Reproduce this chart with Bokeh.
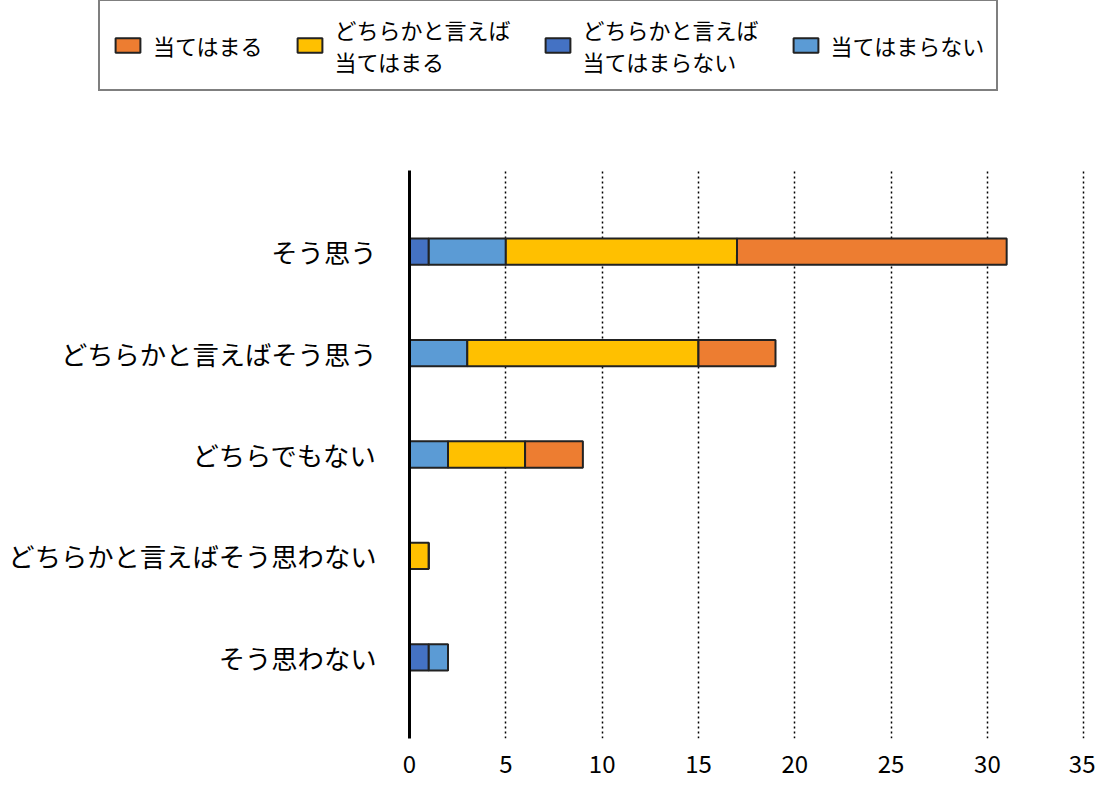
from bokeh.plotting import figure
from bokeh.embed import file_html
from bokeh.resources import INLINE
from bokeh.models import FactorRange, Range1d, Legend, LegendItem

categories = [
    "そう思う",
    "どちらかと言えばそう思う",
    "どちらでもない",
    "どちらかと言えばそう思わない",
    "そう思わない",
]
series_names = ["当てはまる", "どちらかと言えば\n当てはまる", "どちらかと言えば\n当てはまらない", "当てはまらない"]
atehamaru = [14, 4, 3, 0, 0]
dochiraka_atehamaru = [12, 12, 4, 1, 0]
dochiraka_atehamaranai = [1, 0, 0, 0, 1]
atehamaranai = [4, 3, 2, 0, 1]
x_ticks = [0, 5, 10, 15, 20, 25, 30, 35]

FONT = "Noto Sans CJK JP"
# Lato first only for tighter line metrics, kana/kanji fall back to Noto CJK
LEGEND_FONT = "Lato, 'Noto Sans CJK JP'"
colors = {
    "dochiraka_atehamaranai": "#4472C4",
    "atehamaranai": "#5B9BD5",
    "dochiraka_atehamaru": "#FFC000",
    "atehamaru": "#ED7D31",
}
OUTLINE = "#222222"

data = dict(
    cat=categories,
    dochiraka_atehamaranai=dochiraka_atehamaranai,
    atehamaranai=atehamaranai,
    dochiraka_atehamaru=dochiraka_atehamaru,
    atehamaru=atehamaru,
)
stack = ["dochiraka_atehamaranai", "atehamaranai", "dochiraka_atehamaru", "atehamaru"]

p = figure(
    width=1095,
    height=700,
    y_range=FactorRange(*reversed(categories), range_padding=0.3, range_padding_units="absolute"),
    x_range=Range1d(0, 35.3),
    output_backend="svg",
    toolbar_location=None,
    min_border_left=409,
    min_border_top=70,
    min_border_bottom=62,
    min_border_right=6,
)
p.outline_line_color = None

p.hbar_stack(
    stack,
    y="cat",
    height=0.26,
    color=[colors[s] for s in stack],
    line_color=OUTLINE,
    line_width=2,
    source=data,
)

# axes
p.yaxis.axis_line_width = 3
p.yaxis.axis_line_color = "black"
p.yaxis.major_tick_line_color = None
p.yaxis.minor_tick_line_color = None
p.yaxis.major_tick_out = 0
p.yaxis.major_tick_in = 0
p.yaxis.major_label_standoff = 33
p.yaxis.major_label_text_font = FONT
p.yaxis.major_label_text_font_size = "26.3px"
p.yaxis.major_label_text_color = "black"

p.xaxis.ticker = x_ticks
p.xaxis.axis_line_color = None
p.xaxis.major_tick_line_color = None
p.xaxis.minor_tick_line_color = None
p.xaxis.major_tick_out = 0
p.xaxis.major_tick_in = 0
p.xaxis.major_label_standoff = 16
p.xaxis.major_label_text_font = FONT
p.xaxis.major_label_text_font_size = "24px"
p.xaxis.major_label_text_color = "black"

p.ygrid.grid_line_color = None
p.xgrid.grid_line_color = "black"
p.xgrid.grid_line_dash = "2 3"
p.xgrid.grid_line_width = 1.5

# legend strip above the chart (separate root so its frame is not aligned)
leg = figure(
    width=1095,
    height=100,
    y_range=FactorRange(*categories),
    x_range=Range1d(0, 35),
    x_axis_type=None,
    y_axis_type=None,
    output_backend="svg",
    toolbar_location=None,
    min_border=0,
)
leg.outline_line_color = None
leg.grid.visible = False

leg_renderers = leg.hbar_stack(
    stack,
    y="cat",
    height=0.26,
    color=[colors[s] for s in stack],
    line_color=OUTLINE,
    line_width=2,
    source=data,
    visible=False,
)
lr = dict(zip(stack, leg_renderers))
legend_keys = ["atehamaru", "dochiraka_atehamaru", "dochiraka_atehamaranai", "atehamaranai"]

legend = Legend(
    items=[LegendItem(label=n, renderers=[lr[k]]) for k, n in zip(legend_keys, series_names)],
    orientation="horizontal",
    location=(98, 9),
    label_text_font=LEGEND_FONT,
    label_text_font_size="22px",
    label_text_color="black",
    label_standoff=10,
    glyph_width=31,
    glyph_height=18,
    spacing=31,
    padding=12,
    margin=0,
    border_line_color="black",
    border_line_width=2,
    background_fill_alpha=1,
)
leg.add_layout(legend, "center")

open("out.html", "w").write(file_html([leg, p], INLINE))
